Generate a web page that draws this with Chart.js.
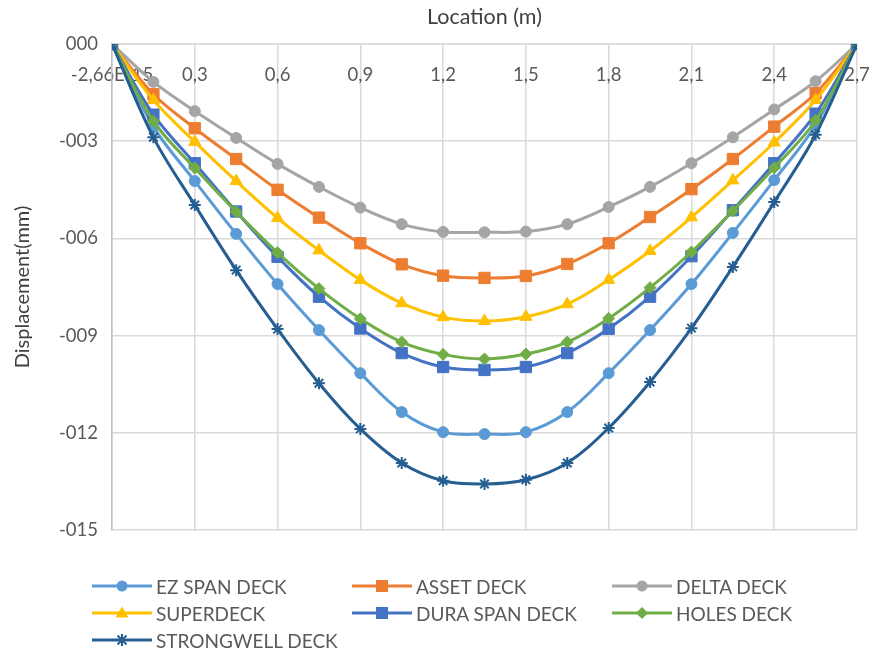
<!DOCTYPE html>
<html lang="en">
<head>
    <meta charset="UTF-8">
    <title>Displacement vs Location</title>
    <script src="https://cdn.jsdelivr.net/npm/chart.js"></script>
    <style>
        body {
            margin: 0;
            background: #ffffff;
            font-family: 'Lato', sans-serif;
        }
        .wrap {
            position: relative;
            width: 876px;
            height: 655px;
        }
        #legend {
            position: absolute;
            left: 92px;
            top: 575px;
            display: grid;
            grid-template-columns: 260px 260px 260px;
            row-gap: 5px;
            color: #595959;
            font-size: 19px;
        }
        .item { display: flex; align-items: center; height: 22px; }
        .item svg { margin-right: 4px; }
    </style>
</head>
<body>
    <div class="wrap">
        <canvas id="chart" width="876" height="655"></canvas>
        <div id="legend"></div>
    </div>

    <script>
        // --- datos ---
        const location_m = [0, 0.15, 0.3, 0.45, 0.6, 0.75, 0.9, 1.05, 1.2, 1.35, 1.5, 1.65, 1.8, 1.95, 2.1, 2.25, 2.4, 2.55, 2.7];

        const ezSpan     = [0, -2.55, -4.23, -5.86, -7.41, -8.83, -10.16, -11.36, -11.98, -12.04, -11.98, -11.36, -10.16, -8.83, -7.41, -5.83, -4.20, -2.50, 0];
        const asset      = [0, -1.55, -2.60, -3.55, -4.50, -5.36, -6.15, -6.80, -7.15, -7.22, -7.16, -6.79, -6.15, -5.34, -4.48, -3.55, -2.55, -1.52, 0];
        const delta      = [0, -1.17, -2.07, -2.90, -3.70, -4.41, -5.05, -5.56, -5.80, -5.81, -5.79, -5.56, -5.03, -4.41, -3.68, -2.88, -2.02, -1.15, 0];
        const superdeck  = [0, -1.73, -3.02, -4.23, -5.37, -6.37, -7.28, -8.00, -8.43, -8.55, -8.42, -8.03, -7.28, -6.39, -5.35, -4.21, -3.04, -1.73, 0];
        const duraSpan   = [0, -2.18, -3.68, -5.17, -6.57, -7.80, -8.78, -9.54, -9.97, -10.06, -9.97, -9.54, -8.79, -7.80, -6.55, -5.13, -3.68, -2.15, 0];
        const holes      = [0, -2.38, -3.83, -5.18, -6.44, -7.55, -8.48, -9.20, -9.58, -9.72, -9.57, -9.20, -8.47, -7.52, -6.42, -5.15, -3.82, -2.36, 0];
        const strongwell = [0, -2.88, -4.97, -6.98, -8.80, -10.47, -11.88, -12.93, -13.48, -13.58, -13.45, -12.93, -11.85, -10.43, -8.77, -6.88, -4.88, -2.80, 0];

        const seriesNames = ['EZ SPAN DECK', 'ASSET DECK', 'DELTA DECK', 'SUPERDECK', 'DURA SPAN DECK', 'HOLES DECK', 'STRONGWELL DECK'];
        const seriesData = [ezSpan, asset, delta, superdeck, duraSpan, holes, strongwell];

        const xTickValues = [0, 0.3, 0.6, 0.9, 1.2, 1.5, 1.8, 2.1, 2.4, 2.7];
        const xTickLabels = ['-2,66E-15', '0,3', '0,6', '0,9', '1,2', '1,5', '1,8', '2,1', '2,4', '2,7'];
        const yTickValues = [0, -3, -6, -9, -12, -15];
        const yTickLabels = ['000', '-003', '-006', '-009', '-012', '-015'];

        // estilo de cada serie
        const colores = ['#5b9bd5', '#ed7d31', '#a5a5a5', '#ffc000', '#4472c4', '#70ad47', '#255e91'];
        const marcadores = ['circle', 'rect', 'circle', 'triangle', 'rect', 'rectRot', 'star'];
        const radios = [5.5, 8, 5.5, 7, 8, 6, 6];

        const datasets = seriesData.map((serie, i) => ({
            label: seriesNames[i],
            data: serie.map((v, j) => ({ x: location_m[j], y: v })),
            borderColor: colores[i],
            backgroundColor: colores[i],
            borderWidth: 3,
            pointStyle: marcadores[i],
            pointRadius: radios[i],
            pointBorderWidth: marcadores[i] === 'star' ? 2 : 1,
            tension: 0.35,
            order: seriesData.length - i
        }));

        const fuente = "'Lato', sans-serif";

        new Chart(document.getElementById('chart'), {
            type: 'line',
            data: { datasets: datasets },
            options: {
                responsive: false,
                animation: false,
                layout: { padding: { left: 0, right: 19, top: 0, bottom: 125 } },
                plugins: {
                    legend: { display: false },
                    tooltip: { enabled: false }
                },
                scales: {
                    x: {
                        type: 'linear',
                        position: 'top',
                        min: 0,
                        max: 2.7,
                        afterBuildTicks: s => { s.ticks = xTickValues.map(v => ({ value: v })); },
                        // etiquetas dentro del area: no reservar margen lateral
                        afterFit: s => { s.height = 44; s.paddingLeft = 0; s.paddingRight = 0; },
                        ticks: {
                            mirror: true,
                            padding: 20,
                            color: '#595959',
                            font: { family: fuente, size: 18.5 },
                            maxRotation: 0,
                            autoSkip: false,
                            callback: (v, i) => xTickLabels[i]
                        },
                        grid: { color: '#d9d9d9', lineWidth: 1.5, drawTicks: false },
                        border: { color: '#d9d9d9', width: 1.5 },
                        title: {
                            display: true,
                            text: 'Location (m)',
                            color: '#404040',
                            font: { family: fuente, size: 21.5 },
                            padding: { top: 4, bottom: 0 }
                        }
                    },
                    y: {
                        min: -15,
                        max: 0,
                        afterBuildTicks: s => { s.ticks = yTickValues.map(v => ({ value: v })); },
                        afterFit: s => { s.width = 112; },
                        ticks: {
                            padding: 14,
                            color: '#595959',
                            font: { family: fuente, size: 18.5 },
                            autoSkip: false,
                            callback: (v, i) => yTickLabels[i]
                        },
                        grid: { color: '#d9d9d9', lineWidth: 1.5, drawTicks: false },
                        border: { color: '#bfbfbf', width: 1.5 },
                        title: {
                            display: true,
                            text: 'Displacement(mm)',
                            color: '#404040',
                            font: { family: fuente, size: 20 },
                            padding: { top: 11, bottom: 0 }
                        }
                    }
                }
            }
        });

        // --- leyenda en columnas, como la del original ---
        function marcadorSVG(tipo, color) {
            const c = 30, m = 8;
            let forma = '';
            if (tipo === 'circle') forma = `<circle cx="${c}" cy="${m}" r="5.5" fill="${color}"/>`;
            else if (tipo === 'rect') forma = `<rect x="${c - 6}" y="${m - 6}" width="12" height="12" fill="${color}"/>`;
            else if (tipo === 'triangle') forma = `<polygon points="${c},${m - 6.5} ${c + 6.5},${m + 4.5} ${c - 6.5},${m + 4.5}" fill="${color}"/>`;
            else if (tipo === 'rectRot') forma = `<polygon points="${c},${m - 6} ${c + 6},${m} ${c},${m + 6} ${c - 6},${m}" fill="${color}"/>`;
            else forma = `<path d="M${c - 4.5} ${m - 4.5}L${c + 4.5} ${m + 4.5}M${c + 4.5} ${m - 4.5}L${c - 4.5} ${m + 4.5}M${c} ${m - 6}L${c} ${m + 6}" stroke="${color}" stroke-width="2"/>`;
            return `<svg width="60" height="16"><line x1="0" y1="${m}" x2="60" y2="${m}" stroke="${color}" stroke-width="3"/>${forma}</svg>`;
        }

        document.getElementById('legend').innerHTML = seriesNames.map((n, i) =>
            `<div class="item">${marcadorSVG(marcadores[i], colores[i])}<span>${n}</span></div>`
        ).join('');
    </script>
</body>
</html>
